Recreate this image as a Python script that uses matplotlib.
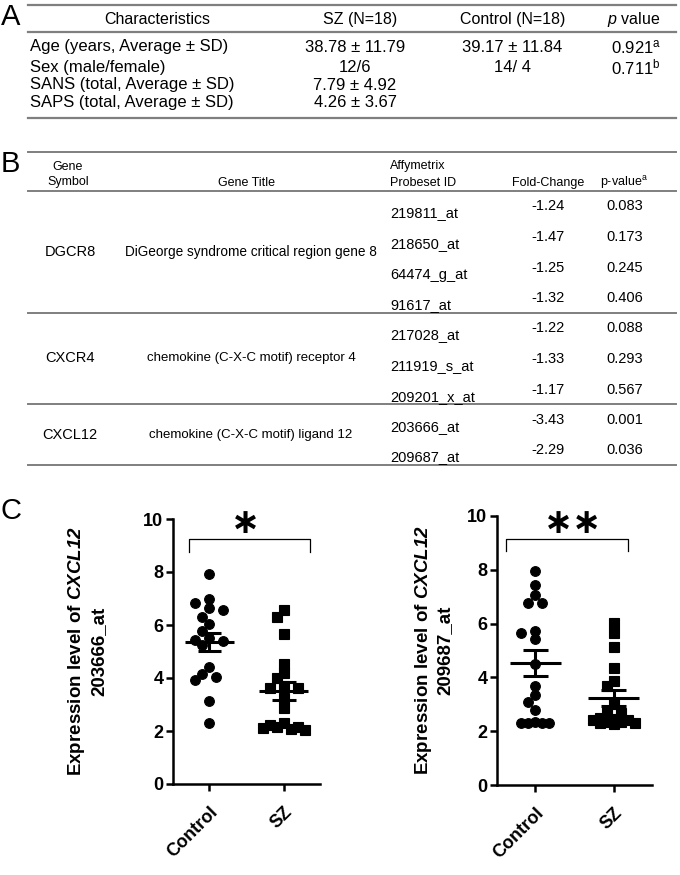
import numpy as np
import matplotlib
matplotlib.use("Agg")
import matplotlib.pyplot as plt
from matplotlib.lines import Line2D
import matplotlib.transforms as mtransforms

plt.rcParams['font.family'] = ['Liberation Sans', 'DejaVu Sans']
plt.rcParams['mathtext.fontset'] = 'custom'
plt.rcParams['mathtext.rm'] = 'Liberation Sans'
plt.rcParams['mathtext.it'] = 'Liberation Sans:italic'
plt.rcParams['mathtext.bf'] = 'Liberation Sans:bold'
plt.rcParams['mathtext.bfit'] = 'Liberation Sans:bold:italic'

# ---- panel A data ----
char_header = ["Characteristics", "SZ (N=18)", "Control (N=18)", "$\\it{p}$ value"]
char_rows = ["Age (years, Average \u00b1 SD)", "Sex (male/female)",
             "SANS (total, Average \u00b1 SD)", "SAPS (total, Average \u00b1 SD)"]
sz_col = ["38.78 \u00b1 11.79", "12/6", "7.79 \u00b1 4.92", "4.26 \u00b1 3.67"]
ctrl_col = ["39.17 \u00b1 11.84", "14/ 4", "", ""]
p_col = ["0.921", "0.711", "", ""]
p_note = ["a", "b", "", ""]

# ---- panel B data ----
gene_symbols = ["DGCR8", "CXCR4", "CXCL12"]
gene_titles = ["DiGeorge syndrome critical region gene 8",
               "chemokine (C-X-C motif) receptor 4",
               "chemokine (C-X-C motif) ligand 12"]
probesets = [["219811_at", "218650_at", "64474_g_at", "91617_at"],
             ["217028_at", "211919_s_at", "209201_x_at"],
             ["203666_at", "209687_at"]]
fold_change = [[-1.24, -1.47, -1.25, -1.32],
               [-1.22, -1.33, -1.17],
               [-3.43, -2.29]]
p_values = [["0.083", "0.173", "0.245", "0.406"],
            ["0.088", "0.293", "0.567"],
            ["0.001", "0.036"]]

# ---- panel C data ----
groups = ["Control", "SZ"]
probe_203666_control = [7.92, 6.99, 6.83, 6.64, 6.55, 6.32, 6.04, 5.79, 5.50,
                        5.45, 5.41, 5.25, 4.41, 4.14, 4.02, 3.93, 3.14, 2.32]
probe_203666_sz = [6.57, 6.30, 5.67, 4.52, 4.18, 3.99, 3.70, 3.62, 3.61,
                   3.24, 2.86, 2.30, 2.23, 2.16, 2.15, 2.10, 2.08, 2.04]
probe_209687_control = [7.97, 7.43, 7.06, 6.75, 6.75, 5.74, 5.66, 5.42, 4.50,
                        3.68, 3.35, 3.10, 2.79, 2.35, 2.32, 2.32, 2.30, 2.30]
probe_209687_sz = [6.03, 5.66, 5.12, 4.34, 3.88, 3.68, 3.00, 2.73, 2.66,
                   2.50, 2.45, 2.40, 2.40, 2.35, 2.35, 2.30, 2.30, 2.28]

W, H = 680, 875
fig = plt.figure(figsize=(W / 100, H / 100), dpi=100)
fig.patch.set_facecolor("white")


def fx(x):
    return x / W


def fy(y):
    return 1 - y / H


def hline(y, x0=28, x1=676, color="#7f7f7f", lw=1.4):
    fig.add_artist(Line2D([fx(x0), fx(x1)], [fy(y), fy(y)], color=color, lw=lw))


def txt(x, y, s, size, ha="center", **kw):
    fig.text(fx(x), fy(y), s, fontsize=size, ha=ha, va="center", **kw)


# panel letters
for letter, ly in zip("ABC", [3, 150, 497]):
    fig.text(fx(1), fy(ly), letter, fontsize=21, ha="left", va="top")

# ---- table A ----
hline(5, lw=1.6)
hline(31.5, lw=1.6)
hline(118, lw=1.6)
for s, x in zip(char_header, [157, 360, 513, 634]):
    txt(x, 19.5, s, 11.5)
row_y = [47, 67.5, 85, 102.5]
for i, y in enumerate(row_y):
    txt(30, y, char_rows[i], 12, ha="left")
    txt(355, y, sz_col[i], 12)
    if ctrl_col[i]:
        txt(512, y, ctrl_col[i], 12)
    if p_col[i]:
        txt(636, y, p_col[i] + "$^{\\rm " + p_note[i] + "}$", 12)

# ---- table B ----
hline(152, lw=1.4)
hline(190.7, lw=1.4)
txt(68, 166.5, "Gene", 9)
txt(68, 182.5, "Symbol", 9)
txt(246, 182.5, "Gene Title", 9)
txt(390, 166.5, "Affymetrix", 9, ha="left")
txt(390, 182.5, "Probeset ID", 9, ha="left")
txt(548, 183, "Fold-Change", 9)
txt(624, 183, "p-value$^{\\rm a}$", 9)

top = 190.7
step = 30.7
for g, sym in enumerate(gene_symbols):
    ys = [top + 22.5 + step * k for k in range(len(probesets[g]))]
    line_y = ys[-1] + 7.5
    mid = (top + line_y) / 2
    txt(70, mid, sym, 10.5)
    txt(251, mid, gene_titles[g], 9.8 if g == 0 else 9.5)
    for k, y in enumerate(ys):
        txt(390, y, probesets[g][k], 10.5, ha="left")
        txt(548, y - 7, f"{fold_change[g][k]:.2f}", 10.5)
        txt(625, y - 7, p_values[g][k], 10.5)
    hline(line_y, lw=1.4)
    top = line_y


# ---- panel C ----
def swarm(vals, xpx, ypx, d=8.5, step=7.0, nmax=3):
    cand = [0.0]
    for k in range(1, nmax + 1):
        cand += [-k * step, k * step]
    placed = []
    offs = []
    for v in vals:
        yp = v * ypx
        best, best_d = cand[0], -1.0
        for c in cand:
            md = min([np.hypot(c - px, yp - py) for px, py in placed] + [1e9])
            if md >= d:
                best = c
                break
            if md > best_d:
                best, best_d = c, md
        placed.append((best, yp))
        offs.append(best / xpx)
    return np.array(offs)


def dot_plot(rect, control, sz, probe, mark, bracket, labelpad):
    ax = fig.add_axes(rect)
    xpx = rect[2] * W / 1.98
    ypx = rect[3] * H / 10
    for i, (vals, m) in enumerate([(control, "o"), (sz, "s")]):
        vals = np.array(sorted(vals, reverse=True))
        xs = i + swarm(vals, xpx, ypx)
        ax.plot(xs, vals, m, color="black", ms=7.0 if m == "o" else 6.6,
                mec="black", mew=0.8, zorder=3, clip_on=False)
        mean = vals.mean()
        sem = vals.std(ddof=1) / np.sqrt(len(vals))
        ax.hlines(mean, i - 0.33, i + 0.33, color="black", lw=2.2, zorder=4)
        ax.hlines([mean - sem, mean + sem], i - 0.16, i + 0.16, color="black",
                  lw=2.2, zorder=4)
        ax.vlines(i, mean - sem, mean + sem, color="black", lw=2.2, zorder=4)
    bx0, bx1, by, bdrop = bracket
    ax.plot([bx0, bx0, bx1, bx1], [by - bdrop, by, by, by - bdrop],
            color="black", lw=0.9, clip_on=False)
    ax.text(0.48, by + 0.6, mark, fontsize=25, fontweight="bold",
            ha="center", va="center", family=["DejaVu Sans"])
    ax.set_xlim(-0.49, 1.49)
    ax.set_ylim(0, 10)
    ax.set_yticks([0, 2, 4, 6, 8, 10])
    ax.set_xticks([0, 1])
    ax.set_xticklabels(groups, rotation=45, ha="right", va="top",
                       rotation_mode="anchor", fontweight="bold", fontsize=13)
    shift = mtransforms.ScaledTranslation(5 / 100, 0, fig.dpi_scale_trans)
    for lab in ax.get_xticklabels():
        lab.set_transform(lab.get_transform() + shift)
    for lab in ax.get_yticklabels():
        lab.set_fontweight("bold")
        lab.set_fontsize(13)
    for side in ["top", "right"]:
        ax.spines[side].set_visible(False)
    for side in ["left", "bottom"]:
        ax.spines[side].set_linewidth(1.8)
    ax.tick_params(direction="out", length=5, width=1.8)
    ax.tick_params(axis="y", pad=2)
    ax.tick_params(axis="x", pad=9)
    ax.set_ylabel("Expression level of $\\mathbfit{CXCL12}$\n" + probe,
                  fontsize=13.5, fontweight="bold", linespacing=1.2,
                  labelpad=labelpad)
    return ax


dot_plot([173 / W, 1 - 784 / H, 147 / W, 265 / H], probe_203666_control,
         probe_203666_sz, "203666_at", "\u2217", (-0.28, 1.36, 9.25, 0.48), 26)
dot_plot([497 / W, 1 - 785 / H, 155 / W, 269 / H], probe_209687_control,
         probe_209687_sz, "209687_at", "\u2217\u2217", (-0.38, 1.18, 9.13, 0.43), 10)

fig.savefig("out.png", dpi=100, facecolor="white")
